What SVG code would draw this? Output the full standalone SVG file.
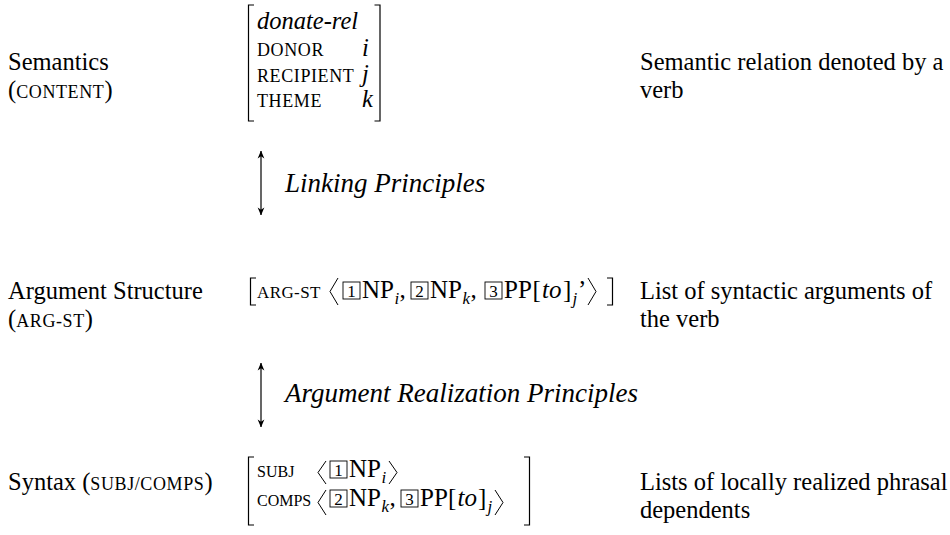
<svg xmlns="http://www.w3.org/2000/svg" width="950" height="535" viewBox="0 0 950 535">
<defs>
<marker id="ah" viewBox="0 0 10 10" refX="9.5" refY="5" markerWidth="8" markerHeight="8" markerUnits="userSpaceOnUse" orient="auto-start-reverse">
<path d="M0,0.8 L10,5 L0,9.2 L3,5 Z" fill="#000"/>
</marker>
</defs>
<style>
text{font-family:"Liberation Serif","Times New Roman",serif;fill:#000}
.b{font-size:24.5px}
.m{font-size:25px}
.sc{font-size:18px;letter-spacing:0.6px}
.sc2{font-size:16px;letter-spacing:0px}
.it{font-style:italic}
.lab{font-size:27px;font-style:italic}
.sub{font-size:17px;font-style:italic}
.num{font-size:17px;text-anchor:middle}
.br{fill:none;stroke:#000;stroke-width:1.2}
.ang{fill:none;stroke:#000;stroke-width:1}
.box{fill:none;stroke:#000;stroke-width:0.9}
.conn{stroke:#000;stroke-width:1.2;fill:none}
</style>
<rect width="950" height="535" fill="#fff"/>

<g id="semantics-label">
<text class="b" x="8" y="70">Semantics</text>
<text class="b" x="8" y="98">(<tspan class="sc">CONTENT</tspan>)</text>
</g>

<g id="semantics-avm">
<path class="br" d="M254,5 H248.5 V121 H254"/>
<path class="br" d="M374.5,5 H380 V121 H374.5"/>
<text class="b it" x="257" y="29">donate-rel</text>
<text class="sc" x="257" y="56">DONOR</text>
<text class="sc" x="257" y="82">RECIPIENT</text>
<text class="sc" x="257" y="107">THEME</text>
<text class="b it" x="362" y="56">i</text>
<text class="b it" x="362" y="82">j</text>
<text class="b it" x="362" y="107">k</text>
</g>

<g id="semantics-desc">
<text class="b" x="640" y="70">Semantic relation denoted by a</text>
<text class="b" x="640" y="98">verb</text>
</g>

<g id="argst-label">
<text class="b" x="8" y="299">Argument Structure</text>
<text class="b" x="8" y="327">(<tspan class="sc">ARG-ST</tspan>)</text>
</g>

<g id="argst-avm">
<path class="br" d="M256,278 H250.5 V305 H256"/>
<text class="sc" x="257" y="298" style="font-size:17px;letter-spacing:0.4px">ARG-ST</text>
<path class="ang" d="M338,278 L330,291.5 L338,305"/>
<rect class="box" x="343" y="282" width="17" height="17"/>
<text class="num" x="351.5" y="297">1</text>
<text class="m" x="362" y="298">NP</text>
<text class="sub" x="394.5" y="304">i</text>
<text class="m" x="399.5" y="298">,</text>
<rect class="box" x="411" y="282" width="17" height="17"/>
<text class="num" x="419.5" y="297">2</text>
<text class="m" x="430" y="298">NP</text>
<text class="sub" x="462.5" y="304">k</text>
<text class="m" x="470.5" y="298">,</text>
<rect class="box" x="485" y="282" width="17" height="17"/>
<text class="num" x="493.5" y="297">3</text>
<text class="m" x="504" y="298">PP</text>
<text class="m" x="532.5" y="298">[</text>
<text class="m it" x="542" y="298">to</text>
<text class="m" x="563" y="298">]</text>
<text class="sub" x="572.5" y="304">j</text>
<text class="m" x="578" y="298">’</text>
<path class="ang" d="M588,278 L596,291.5 L588,305"/>
<path class="br" d="M607,278 H612.5 V305 H607"/>
</g>

<g id="argst-desc">
<text class="b" x="640" y="299">List of syntactic arguments of</text>
<text class="b" x="640" y="327">the verb</text>
</g>

<g id="syntax-label">
<text class="b" x="8" y="490">Syntax (<tspan class="sc">SUBJ/COMPS</tspan>)</text>
</g>

<g id="syntax-avm">
<path class="br" d="M254,457 H248.5 V525 H254"/>
<path class="br" d="M524,457 H529.5 V525 H524"/>
<text class="sc2" x="257" y="477">SUBJ</text>
<path class="ang" d="M326,461 L318,472.5 L326,484"/>
<rect class="box" x="330" y="461" width="17" height="17"/>
<text class="num" x="338.5" y="476">1</text>
<text class="m" x="349" y="477">NP</text>
<text class="sub" x="381.5" y="483">i</text>
<path class="ang" d="M389,461 L397,472.5 L389,484"/>
<text class="sc2" x="257" y="506">COMPS</text>
<path class="ang" d="M326,490 L318,502.5 L326,515"/>
<rect class="box" x="330" y="490" width="17" height="17"/>
<text class="num" x="338.5" y="505">2</text>
<text class="m" x="349" y="506">NP</text>
<text class="sub" x="381.5" y="512">k</text>
<text class="m" x="389.5" y="506">,</text>
<rect class="box" x="401" y="490" width="17" height="17"/>
<text class="num" x="409.5" y="505">3</text>
<text class="m" x="420" y="506">PP</text>
<text class="m" x="448" y="506">[</text>
<text class="m it" x="457.5" y="506">to</text>
<text class="m" x="478" y="506">]</text>
<text class="sub" x="487.5" y="512">j</text>
<path class="ang" d="M495,490 L503,502.5 L495,515"/>
</g>

<g id="syntax-desc">
<text class="b" x="640" y="490">Lists of locally realized phrasal</text>
<text class="b" x="640" y="518">dependents</text>
</g>

<g id="connectors">
<line class="conn" x1="261" y1="151" x2="261" y2="215" marker-start="url(#ah)" marker-end="url(#ah)"/>
<text class="lab" x="285" y="192">Linking Principles</text>
<line class="conn" x1="261" y1="363" x2="261" y2="427" marker-start="url(#ah)" marker-end="url(#ah)"/>
<text class="lab" x="285" y="402">Argument Realization Principles</text>
</g>
</svg>
